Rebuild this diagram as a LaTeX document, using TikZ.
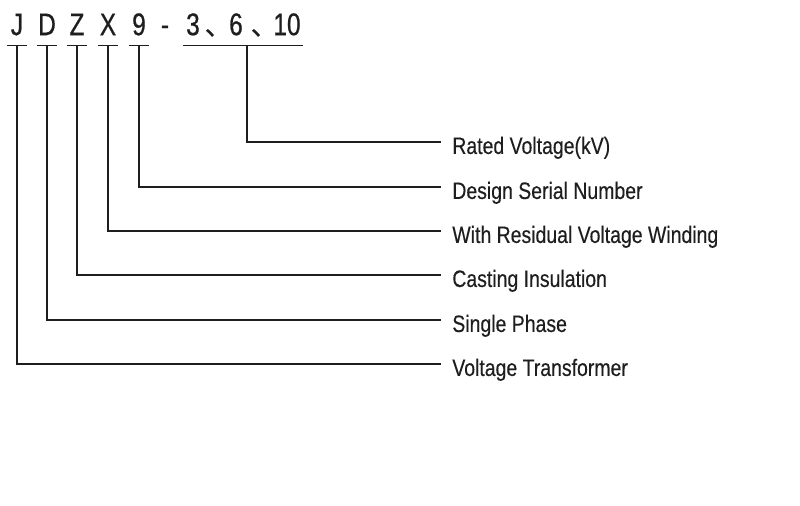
\documentclass[tikz,border=0pt]{standalone}
\usepackage{fontspec}
\setmainfont{Liberation Sans}
\newfontfamily\narrowsf[FakeStretch=0.82, FakeBold=0.3]{Liberation Sans}
\newfontfamily\tallsf[FakeStretch=0.78, FakeBold=0.7]{Liberation Sans}
\newfontfamily\cjkfont[FakeBold=0.7]{Noto Sans CJK SC}
\definecolor{inkgray}{RGB}{30, 30, 30}
\usetikzlibrary{positioning}

\begin{document}
\begin{tikzpicture}[x=0.02cm, y=-0.02cm,
  every node/.style={text=inkgray},
  chr/.style={font=\tallsf\fontsize{17.8}{20}\selectfont, text height=12.7pt, text depth=0pt,
    inner xsep=0pt, inner ysep=0.2cm, minimum width=0.4cm},
  lbl/.style={anchor=west, font=\narrowsf\fontsize{13.5}{16}\selectfont, text height=13.6pt, text depth=0pt,
    inner xsep=0.22cm, inner ysep=0pt},
  wire/.style={draw=inkgray, line width=0.7pt}]
\useasboundingbox (0,0) rectangle (800,506);
% Type code
\node[chr] (cJ) at (17,24) {J};
\node[chr] (cD) at (47,24) {D};
\node[chr] (cZ) at (77,24) {Z};
\node[chr] (cX) at (108,24) {X};
\node[chr] (c9) at (139,24) {9};
\node[chr] (cDash) at (165,24) {-};
\node[chr] (c3) at (193,24) {3};
\node[chr, font=\cjkfont\fontsize{15}{17}\selectfont] (cSep1) at (218,24) {、};
\node[chr] (c6) at (236,24) {6};
\node[chr, font=\cjkfont\fontsize{15}{17}\selectfont] (cSep2) at (264,24) {、};
\node[chr, minimum width=0.64cm] (c10) at (287,24) {10};
\coordinate (grp) at (247,45);
% Meanings
\node[lbl] (lRated) at (441,142) {Rated Voltage(kV)};
\node[lbl] (lSerial) at (441,187) {Design Serial Number};
\node[lbl] (lResid) at (441,231) {With Residual Voltage Winding};
\node[lbl] (lCast) at (441,275) {Casting Insulation};
\node[lbl] (lPhase) at (441,320) {Single Phase};
\node[lbl] (lVT) at (441,364) {Voltage Transformer};
% Underlines and leaders
\foreach \c in {cJ,cD,cZ,cX,c9}
  \draw[wire] (\c.south west) -- (\c.south east);
\draw[wire] (c3.south west) -- (c10.south east);
\draw[wire] (grp) |- (lRated.west);
\draw[wire] (c9.south) |- (lSerial.west);
\draw[wire] (cX.south) |- (lResid.west);
\draw[wire] (cZ.south) |- (lCast.west);
\draw[wire] (cD.south) |- (lPhase.west);
\draw[wire] (cJ.south) |- (lVT.west);
\end{tikzpicture}
\end{document}
